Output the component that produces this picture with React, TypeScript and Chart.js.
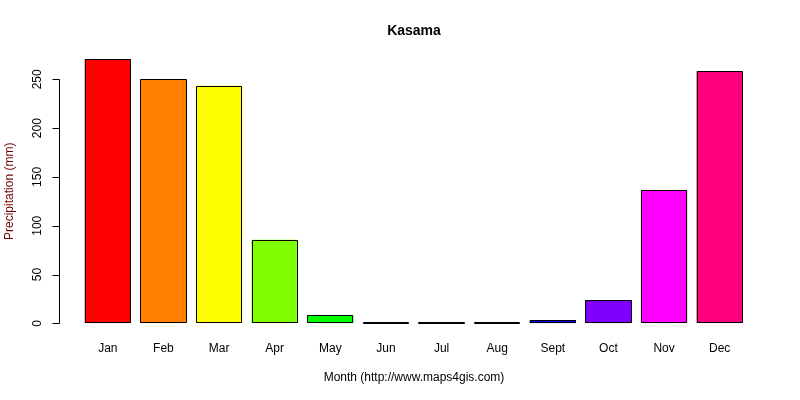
import React, { useEffect, useRef } from "react";
import { Chart, registerables } from "chart.js";

Chart.register(...registerables);

const months = ["Jan", "Feb", "Mar", "Apr", "May", "Jun", "Jul", "Aug", "Sept", "Oct", "Nov", "Dec"];
const precipitation = [270.5, 250, 243.5, 85.5, 8.5, 0.4, 0.3, 0.4, 3.1, 23.6, 136.3, 258.2];
const barColors = [
  "#FF0000", "#FF8000", "#FFFF00", "#80FF00", "#00FF00", "#00FF80",
  "#00FFFF", "#0080FF", "#0000FF", "#8000FF", "#FF00FF", "#FF0080",
];
const yTicks = [0, 50, 100, 150, 200, 250];
const titleText = "Kasama";
const xTitle = "Month (http://www.maps4gis.com)";
const yTitle = "Precipitation (mm)";

const FONT = "Arial, 'Liberation Sans', sans-serif";

const outlinePlugin = {
  id: "outline",
  afterDatasetsDraw(chart: any) {
    const ctx = chart.ctx;
    const meta = chart.getDatasetMeta(0);
    ctx.save();
    ctx.strokeStyle = "#000";
    ctx.lineWidth = 1;
    meta.data.forEach((bar: any) => {
      const l = Math.round(bar.x - bar.width / 2) + 0.5;
      const r = Math.round(bar.x + bar.width / 2) - 0.5;
      const t = Math.round(bar.y) + 0.5;
      const b = Math.round(bar.base) - 0.5;
      ctx.beginPath();
      ctx.rect(l, Math.min(t, b), r - l, Math.abs(b - t));
      ctx.stroke();
    });
    ctx.restore();
  },
};

const rAxesPlugin = {
  id: "rAxes",
  afterDraw(chart: any) {
    const ctx = chart.ctx;
    const y = chart.scales.y;
    const x = chart.scales.x;
    const area = chart.chartArea;
    ctx.save();
    ctx.fillStyle = "#000";
    ctx.font = `bold 14px ${FONT}`;
    ctx.textAlign = "center";
    ctx.textBaseline = "middle";
    ctx.fillText(titleText, 414, 31);

    const axisX = 59.5;
    const y0 = Math.round(y.getPixelForValue(yTicks[0])) + 0.5;
    const y1 = Math.round(y.getPixelForValue(yTicks[yTicks.length - 1])) + 0.5;
    ctx.strokeStyle = "#000";
    ctx.lineWidth = 1;
    ctx.beginPath();
    ctx.moveTo(axisX, y0);
    ctx.lineTo(axisX, y1);
    yTicks.forEach((t) => {
      const py = Math.round(y.getPixelForValue(t)) + 0.5;
      ctx.moveTo(axisX, py);
      ctx.lineTo(axisX - 7, py);
    });
    ctx.stroke();

    ctx.font = `12px ${FONT}`;
    yTicks.forEach((t) => {
      const py = y.getPixelForValue(t);
      ctx.save();
      ctx.translate(38, py);
      ctx.rotate(-Math.PI / 2);
      ctx.textAlign = "center";
      ctx.textBaseline = "middle";
      ctx.fillText(String(t), 0, 0);
      ctx.restore();
    });

    months.forEach((m, i) => {
      const px = x.getPixelForValue(i);
      ctx.textAlign = "center";
      ctx.textBaseline = "middle";
      ctx.fillText(m, px, 349);
    });

    ctx.fillText(xTitle, 414, 378);
    ctx.save();
    ctx.translate(10, (area.top + 333.8) / 2);
    ctx.rotate(-Math.PI / 2);
    ctx.fillStyle = "#700000";
    ctx.textAlign = "center";
    ctx.textBaseline = "middle";
    ctx.fillText(yTitle, 0, 0);
    ctx.restore();
    ctx.restore();
  },
};

export default function App() {
  const ref = useRef<HTMLCanvasElement | null>(null);
  useEffect(() => {
    if (!ref.current) return;
    const chart = new Chart(ref.current, {
      type: "bar",
      data: {
        labels: months,
        datasets: [
          {
            data: precipitation,
            backgroundColor: barColors,
            borderWidth: 0,
            categoryPercentage: 1 / 1.2,
            barPercentage: 1,
          },
        ],
      },
      options: {
        animation: false,
        responsive: false,
        maintainAspectRatio: false,
        layout: { padding: { left: 80, right: 52.5, top: 48.8, bottom: 76.7 } },
        plugins: { legend: { display: false }, tooltip: { enabled: false }, title: { display: false } },
        scales: {
          x: { display: false, offset: true },
          y: { display: false, min: 0, max: 281.3 },
        },
      },
      plugins: [outlinePlugin, rAxesPlugin],
    });
    return () => chart.destroy();
  }, []);
  return (
    <div style={{ position: "fixed", left: 0, top: 0, width: 800, height: 400, background: "#fff" }}>
      <canvas ref={ref} width={800} height={400} style={{ width: 800, height: 400 }} />
    </div>
  );
}
